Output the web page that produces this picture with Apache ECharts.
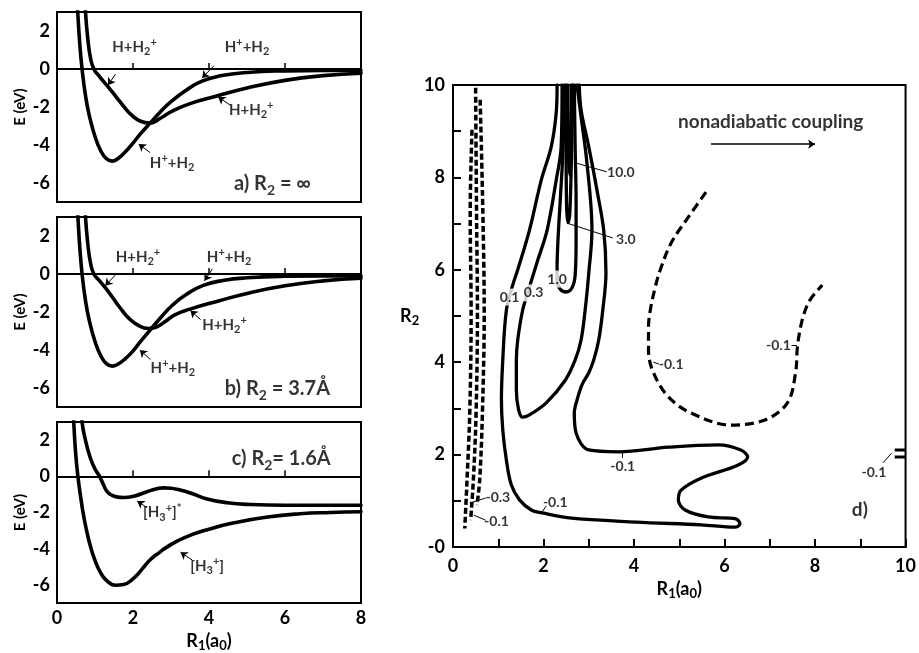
<!DOCTYPE html>
<html><head><meta charset="utf-8">
<script src="https://cdn.jsdelivr.net/npm/echarts@6/dist/echarts.min.js"></script>
<style>html,body{margin:0;padding:0;background:#fff}#c{width:919px;height:653px}</style>
</head><body><div id="c"></div>
<script>
// ---------------- DATA ----------------
// Panel a) R2 = infinity : E(eV) vs R1(a0)
const deepA = [[0.50,4.5],[0.545,3.0],[0.60,1.3],[0.66,0],[0.75,-1.4],[0.85,-2.45],[1.0,-3.55],[1.15,-4.3],[1.3,-4.72],[1.45,-4.85],[1.6,-4.72],[1.8,-4.35],[2.0,-3.9],[2.2,-3.4],[2.45,-2.85],[2.7,-2.3],[3.0,-1.72],[3.4,-1.12],[3.8,-0.65],[4.3,-0.36],[5.0,-0.18],[6.0,-0.1],[7.0,-0.08],[8.0,-0.08]];
const shallowA = [[0.72,4.5],[0.75,3.0],[0.81,1.6],[0.88,0.6],[0.97,0],[1.12,-0.4],[1.34,-0.93],[1.55,-1.45],[1.75,-1.95],[1.95,-2.4],[2.2,-2.75],[2.45,-2.85],[2.7,-2.62],[3.0,-2.25],[3.5,-1.82],[4.25,-1.4],[5.0,-1.0],[6.0,-0.6],[7.0,-0.35],[8.0,-0.22]];
// Panel b) R2 = 3.7 A
const deepB = [[0.50,4.5],[0.55,3.0],[0.60,1.4],[0.66,0],[0.75,-1.4],[0.85,-2.45],[1.0,-3.55],[1.15,-4.3],[1.3,-4.72],[1.45,-4.85],[1.6,-4.75],[1.8,-4.45],[2.0,-4.05],[2.2,-3.55],[2.45,-2.95],[2.75,-2.25],[3.05,-1.62],[3.4,-1.08],[3.85,-0.6],[4.4,-0.33],[5.0,-0.2],[6.0,-0.12],[7.0,-0.1],[8.0,-0.1]];
const shallowB = [[0.72,4.5],[0.75,3.0],[0.81,1.6],[0.88,0.6],[0.97,0],[1.12,-0.36],[1.27,-0.72],[1.45,-1.2],[1.65,-1.75],[1.9,-2.35],[2.15,-2.72],[2.4,-2.87],[2.6,-2.8],[2.85,-2.5],[3.1,-2.15],[3.5,-1.85],[4.25,-1.42],[5.0,-1.02],[6.0,-0.62],[7.0,-0.36],[8.0,-0.22]];
// Panel c) R2 = 1.6 A
const lowerC = [[0.40,4.5],[0.44,3.0],[0.49,1.3],[0.55,0],[0.62,-1.1],[0.70,-2.17],[0.79,-3.1],[0.88,-3.87],[1.0,-4.65],[1.14,-5.3],[1.3,-5.75],[1.54,-6.02],[1.75,-5.98],[2.02,-5.63],[2.25,-5.1],[2.46,-4.6],[2.7,-4.2],[2.9,-3.9],[3.34,-3.4],[4.0,-2.92],[4.66,-2.57],[5.54,-2.25],[6.4,-2.07],[7.2,-2.0],[8.0,-1.96]];
const upperC = [[0.62,4.5],[0.66,3.0],[0.76,1.9],[0.88,1.0],[1.0,0.4],[1.12,0],[1.22,-0.45],[1.32,-0.85],[1.45,-1.05],[1.6,-1.15],[1.75,-1.17],[2.02,-1.1],[2.37,-0.85],[2.6,-0.7],[2.81,-0.64],[3.0,-0.66],[3.16,-0.72],[3.51,-0.92],[3.95,-1.25],[4.48,-1.46],[5.1,-1.56],[6.0,-1.6],[7.0,-1.6],[8.0,-1.6]];
// Panel d) nonadiabatic coupling contours, [R1, R2]
const c01 = [[2.30,10.0],[2.28,9.39],[2.17,8.66],[1.95,7.94],[1.69,6.86],[1.43,6.00],[1.32,5.67],[1.18,5.13],[1.10,4.05],[1.07,3.18],[1.10,2.53],[1.18,1.88],[1.29,1.34],[1.47,1.02],[1.73,0.80],[1.97,0.74],[2.57,0.63],[4.04,0.54],[5.48,0.48],[6.23,0.43],[6.34,0.50],[6.25,0.61],[5.64,0.65],[5.13,0.80],[4.98,1.02],[5.04,1.23],[5.48,1.49],[6.29,1.77],[6.51,1.95],[6.36,2.10],[5.86,2.21],[4.76,2.16],[3.66,2.06],[3.00,2.10],[2.72,2.47],[2.68,2.90],[2.74,3.18],[2.85,3.51],[3.00,3.77],[3.11,4.05],[3.22,4.48],[3.31,5.13],[3.38,5.93],[3.33,6.86],[3.18,7.73],[3.00,8.66],[2.83,9.46],[2.79,10.0]];
const c03 = [[2.41,10.0],[2.39,8.66],[2.28,7.94],[2.08,6.86],[1.86,6.17],[1.69,5.63],[1.54,5.13],[1.43,4.48],[1.40,4.05],[1.40,3.40],[1.45,2.97],[1.54,2.81],[1.69,2.86],[2.06,3.12],[2.48,3.61],[2.70,4.05],[2.83,4.48],[2.92,5.13],[3.00,5.93],[3.07,6.86],[2.96,8.31],[2.81,9.46],[2.74,10.0]];
const c10 = [[2.46,10.0],[2.43,8.59],[2.37,7.51],[2.32,6.65],[2.30,6.06],[2.30,5.78],[2.37,5.58],[2.50,5.52],[2.63,5.61],[2.70,5.89],[2.72,6.65],[2.72,7.51],[2.70,8.59],[2.68,10.0]];
const c30 = [[2.50,10.0],[2.50,8.6],[2.51,7.4],[2.54,7.02],[2.58,7.2],[2.62,8.6],[2.64,10.0]];
const c100 = [[2.54,10.0],[2.55,8.6],[2.58,8.05],[2.61,8.6],[2.62,10.0]];
const neg1 = [[0.42,9.03],[0.38,7.23],[0.40,5.06],[0.37,2.90],[0.31,1.45],[0.26,0.40]];
const neg2 = [[0.50,9.94],[0.52,7.23],[0.54,5.06],[0.51,2.90],[0.45,1.45],[0.39,0.58]];
const neg3 = [[0.60,9.68],[0.66,7.23],[0.69,5.06],[0.65,2.90],[0.59,1.45],[0.53,0.91]];
const negRing = [[5.59,7.68],[5.20,7.14],[4.82,6.58],[4.58,6.00],[4.47,5.63],[4.36,5.13],[4.32,4.76],[4.32,4.26],[4.43,3.77],[4.76,3.25],[5.26,2.90],[6.14,2.64],[6.89,2.75],[7.39,3.12],[7.57,3.77],[7.61,4.33],[7.68,4.76],[7.76,5.06],[7.89,5.35],[8.16,5.67]];
const edgeA = [[9.76,2.10],[10,2.10]];
const edgeB = [[9.76,1.95],[10,1.95]];

// tick labels
const rTicks = [0,2,4,6,8];            const rTickLabels = ['0','2','4','6','8'];
const eTicks = [-6,-4,-2,0,2];         const eTickLabels = ['-6','-4','-2','0','2'];
const dTicks = [0,2,4,6,8,10];
const dXLabels = ['0','2','4','6','8','10'];
const dYLabels = ['-0','2','4','6','8','10'];

// texts
const T_HH2p = '{n|H+H}{sb|2}{sp|+}';
const T_HpH2 = '{n|H}{sp|+}{n|+H}{sb|2}';
const T_H3s = '{n|[H}{sb|3}{sp|+}{n|]}{sp|*}';
const T_H3 = '{n|[H}{sb|3}{sp|+}{n|]}';
const annA = [{t:T_HH2p,x:2.04,y:1.15},{t:T_HpH2,x:5.0,y:1.15},{t:T_HH2p,x:5.11,y:-2.17},{t:T_HpH2,x:3.03,y:-4.94},{t:'{p|a) R}{ps|2}{p| = ∞}',x:5.67,y:-6.04}];
const annB = [{t:T_HH2p,x:2.13,y:0.89},{t:T_HpH2,x:4.53,y:0.89},{t:T_HH2p,x:4.41,y:-2.7},{t:T_HpH2,x:3.05,y:-4.94},{t:'{p|b) R}{ps|2}{p| = 3.7Å}',x:5.8,y:-6.04}];
const annC = [{t:T_H3s,x:2.77,y:-2.0},{t:T_H3,x:3.95,y:-4.98},{t:'{p|c) R}{ps|2}{p|= 1.6Å}',x:5.9,y:1.0}];
const arrowsA = [[1.54,-0.27,1.34,-0.85],[4.13,0.18,3.82,-0.48],[4.57,-1.92,4.24,-1.47],[2.45,-4.4,2.15,-3.95]];
const arrowsB = [[1.54,-0.04,1.27,-0.62],[4.09,0.27,3.88,-0.36],[3.78,-2.4,3.51,-1.92],[2.46,-4.5,2.18,-4.0]];
const arrowsC = [[2.37,-1.73,2.11,-1.37],[3.56,-4.63,3.25,-4.19]];
const annD = [
  {t:'{c|0.1}',x:1.25,y:5.41,bg:1},{t:'{c|0.3}',x:1.78,y:5.50,bg:1},{t:'{c|1.0}',x:2.30,y:5.80,bg:1},
  {t:'{c|10.0}',x:3.71,y:8.10},{t:'{c|3.0}',x:3.82,y:6.65},
  {t:'{c|-0.1}',x:2.26,y:0.97},{t:'{c|-0.1}',x:3.75,y:1.75},{t:'{c|-0.1}',x:4.82,y:3.96},
  {t:'{c|-0.1}',x:7.19,y:4.37},{t:'{c|-0.1}',x:9.30,y:1.62},{t:'{c|-0.3}',x:0.99,y:1.08},{t:'{c|-0.1}',x:0.96,y:0.56},
  {t:'{big|d)}',x:8.99,y:0.80},{t:'{big|nonadiabatic coupling}',x:7.02,y:9.2}
];
const pointersD = [[2.72,8.31,3.40,8.12],[2.52,7.01,3.53,6.69],[1.97,0.76,2.06,0.89],[3.73,2.06,3.73,1.93],[4.43,4.0,4.55,3.96],[7.48,4.37,7.60,4.37],[9.50,1.82,9.69,2.03],[0.37,0.95,0.72,1.06],[0.46,0.69,0.72,0.58]];
const arrowD = [[5.70,8.72,8.00,8.72]];

// ---------------- STYLE / OPTION ----------------
const F = 'Lato,"Noto Sans","DejaVu Sans",sans-serif';
const K = '#000';
const RICH = {
  n:{fontFamily:F,fontSize:15,fontWeight:'bold',color:K,lineHeight:20,verticalAlign:'middle'},
  sb:{fontFamily:F,fontSize:11,fontWeight:'bold',color:K,verticalAlign:'bottom'},
  sp:{fontFamily:F,fontSize:11,fontWeight:'bold',color:K,verticalAlign:'top'},
  p:{fontFamily:F,fontSize:20,fontWeight:'bold',color:K,lineHeight:28,verticalAlign:'middle'},
  ps:{fontFamily:F,fontSize:14,fontWeight:'bold',color:K,verticalAlign:'bottom'},
  c:{fontFamily:F,fontSize:14,fontWeight:'bold',color:K,lineHeight:15},
  big:{fontFamily:F,fontSize:19,fontWeight:'bold',color:K,lineHeight:22}
};
const AXR = {
  t:{fontFamily:F,fontSize:18,fontWeight:'bold',color:K,lineHeight:22,verticalAlign:'middle'},
  s:{fontFamily:F,fontSize:13,fontWeight:'bold',color:K,verticalAlign:'bottom'}
};
const fmt = (vals, labs) => v => { const i = vals.indexOf(Math.round(v*1000)/1000); return i >= 0 ? labs[i] : ''; };
const tickFont = {color:K,fontFamily:F,fontSize:18,fontWeight:'bold'};

const grids = [
  {left:57,top:12,width:304,height:190},
  {left:57,top:217,width:304,height:190},
  {left:57,top:422,width:304,height:190},
  {left:453,top:85,width:456,height:462}
].map(g => Object.assign({show:true,borderColor:K,borderWidth:2,containLabel:false}, g));

const xAxes = [0,1,2].map(i => ({
  gridIndex:i,type:'value',min:0,max:8,interval:2,
  axisLine:{lineStyle:{color:K,width:2}},
  axisTick:{inside:true,length:6,lineStyle:{color:K,width:1.5}},
  axisLabel:Object.assign({show:i===2,margin:6,formatter:fmt(rTicks,rTickLabels)},tickFont),
  splitLine:{show:false},
  name: i===2 ? '{t|R}{s|1}{t|(a}{s|0}{t|)}' : '',
  nameLocation:'middle',nameGap:27,nameTextStyle:{rich:AXR}
}));
xAxes.push({
  gridIndex:3,type:'value',min:0,max:10,interval:1,
  axisLine:{lineStyle:{color:K,width:2}},
  axisTick:{inside:true,length:8,lineStyle:{color:K,width:2}},
  axisLabel:Object.assign({margin:10,formatter:fmt(dTicks,dXLabels)},tickFont),
  splitLine:{show:false},
  name:'{t|R}{s|1}{t|(a}{s|0}{t|)}',nameLocation:'middle',nameGap:31,nameTextStyle:{rich:AXR}
});
const yAxes = [0,1,2].map(i => ({
  gridIndex:i,type:'value',min:-7,max:3,interval:1,
  axisLine:{lineStyle:{color:K,width:2}},
  axisTick:{show:false},
  axisLabel:Object.assign({margin:7,formatter:fmt(eTicks,eTickLabels)},tickFont),
  splitLine:{show:false},
  name:'E (eV)',nameLocation:'middle',nameGap:29,nameRotate:90,
  nameTextStyle:{fontFamily:F,fontSize:15,fontWeight:'bold',color:K}
}));
yAxes.push({
  gridIndex:3,type:'value',min:0,max:10,interval:1,
  axisLine:{lineStyle:{color:K,width:2}},
  axisTick:{inside:true,length:8,lineStyle:{color:K,width:2}},
  axisLabel:Object.assign({margin:8,formatter:fmt(dTicks,dYLabels)},tickFont),
  splitLine:{show:false},
  name:'{t|R}{s|2}',nameLocation:'middle',nameGap:26,nameRotate:0,nameTextStyle:{rich:AXR}
});

function curve(data, gi, extra) {
  return Object.assign({type:'line',xAxisIndex:gi,yAxisIndex:gi,data:data,symbol:'none',showSymbol:false,
    smooth:0.5,silent:true,z:3,lineStyle:{color:K,width:3.6,cap:'round',join:'round'}}, extra || {});
}
function zeroLine() {
  return {silent:true,symbol:'none',label:{show:false},data:[{yAxis:0}],lineStyle:{color:K,width:1.5,type:'solid'}};
}
function labels(items, gi) {
  return {type:'scatter',xAxisIndex:gi,yAxisIndex:gi,symbolSize:1,itemStyle:{color:'rgba(0,0,0,0)'},silent:true,z:10,
    data:items.map(it => ({value:[it.x,it.y],label:{show:true,position:'inside',formatter:it.t,rich:RICH,
      backgroundColor: it.bg ? '#fff' : 'transparent', padding: it.bg ? [1,2] : 0}}))};
}
function segs(list, gi, arrow, width) {
  return {type:'lines',coordinateSystem:'cartesian2d',xAxisIndex:gi,yAxisIndex:gi,silent:true,z:8,
    symbol: arrow ? ['none','arrow'] : ['none','none'], symbolSize: arrow ? 7 : 0,
    lineStyle:{color:K,width:width||1,opacity:1,curveness:0},
    data:list.map(a => ({coords:[[a[0],a[1]],[a[2],a[3]]]}))};
}
const solid = {smooth:0.35,lineStyle:{color:K,width:3.3,cap:'round',join:'round'}};
const bandDash = {smooth:0.35,lineStyle:{color:K,width:3.5,type:[6,3]}};

const series = [
  curve(deepA,0,{markLine:zeroLine()}), curve(shallowA,0),
  labels(annA,0), segs(arrowsA,0,true),
  curve(deepB,1,{markLine:zeroLine()}), curve(shallowB,1),
  labels(annB,1), segs(arrowsB,1,true),
  curve(lowerC,2,{markLine:zeroLine()}), curve(upperC,2),
  labels(annC,2), segs(arrowsC,2,true),
  curve(c01,3,solid), curve(c03,3,solid), curve(c10,3,solid), curve(c30,3,solid), curve(c100,3,solid),
  curve(edgeA,3,{smooth:false,lineStyle:{color:K,width:3}}),
  curve(edgeB,3,{smooth:false,lineStyle:{color:K,width:3}}),
  curve(neg1,3,bandDash), curve(neg2,3,bandDash), curve(neg3,3,bandDash),
  curve(negRing,3,{smooth:0.35,lineStyle:{color:K,width:3.2,type:[9,5]}}),
  segs(pointersD,3,false,1),
  segs(arrowD,3,true,1.5),
  labels(annD,3)
];

const chart = echarts.init(document.getElementById('c'));
chart.setOption({animation:false,backgroundColor:'#fff',grid:grids,xAxis:xAxes,yAxis:yAxes,series:series});
</script></body></html>
